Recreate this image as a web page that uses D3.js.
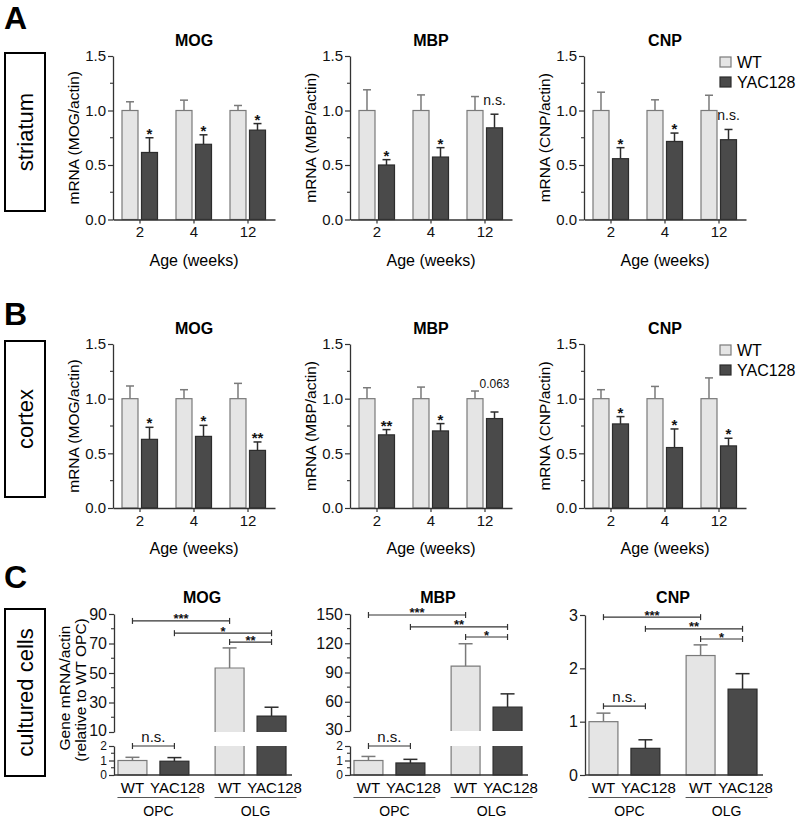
<!DOCTYPE html>
<html><head><meta charset="utf-8">
<script src="https://cdn.jsdelivr.net/npm/d3@7"></script>
<style>body{margin:0;background:#fff} svg{display:block;font-family:"Liberation Sans",Arial,Helvetica,sans-serif}</style>
</head><body><svg id="c" width="800" height="819"></svg>
<script>
// ---------- data ----------
const ages = ["2","4","12"];
const genotypes = ["WT","YAC128"];
const stages = ["OPC","OLG"];
const ageYTicks = [0, 0.5, 1.0, 1.5];
const ageYMinor = [0.25, 0.75, 1.25];

// A: striatum
const striatumMOG_WT = [1, 1, 1],   striatumMOG_WTsem = [0.08, 0.095, 0.046];
const striatumMOG_YAC = [0.615, 0.69, 0.82], striatumMOG_YACsem = [0.135, 0.087, 0.06];
const striatumMOG_sig = ["*", "*", "*"];
const striatumMBP_WT = [1, 1, 1],   striatumMBP_WTsem = [0.19, 0.143, 0.128];
const striatumMBP_YAC = [0.50, 0.573, 0.841], striatumMBP_YACsem = [0.049, 0.086, 0.125];
const striatumMBP_sig = ["*", "*", "n.s."];
const striatumCNP_WT = [1, 1, 1],   striatumCNP_WTsem = [0.168, 0.098, 0.14];
const striatumCNP_YAC = [0.558, 0.716, 0.732], striatumCNP_YACsem = [0.101, 0.077, 0.094];
const striatumCNP_sig = ["*", "*", "n.s."];

// B: cortex
const cortexMOG_WT = [1, 1, 1],   cortexMOG_WTsem = [0.116, 0.082, 0.14];
const cortexMOG_YAC = [0.628, 0.655, 0.527], cortexMOG_YACsem = [0.11, 0.101, 0.077];
const cortexMOG_sig = ["*", "*", "**"];
const cortexMBP_WT = [1, 1, 1],   cortexMBP_WTsem = [0.10, 0.106, 0.07];
const cortexMBP_YAC = [0.669, 0.705, 0.818], cortexMBP_YACsem = [0.048, 0.067, 0.06];
const cortexMBP_sig = ["**", "*", "0.063"];
const cortexCNP_WT = [1, 1, 1],   cortexCNP_WTsem = [0.082, 0.112, 0.19];
const cortexCNP_YAC = [0.769, 0.553, 0.568], cortexCNP_YACsem = [0.067, 0.17, 0.07];
const cortexCNP_sig = ["*", "*", "*"];

// C: cultured cells (OPC, OLG)
const cultureMOG_WT = [1.0, 53.4],  cultureMOG_WTsem = [0.22, 13.6];
const cultureMOG_YAC = [0.95, 20.8], cultureMOG_YACsem = [0.25, 6.0];
const cultureMOG_brackets = [
  {a:["OPC","WT"], b:["OPC","YAC128"], label:"n.s.", at:2.0},
  {a:["OPC","WT"], b:["OLG","WT"], label:"***", at:85.3},
  {a:["OPC","YAC128"], b:["OLG","YAC128"], label:"*", at:77},
  {a:["OLG","WT"], b:["OLG","YAC128"], label:"**", at:71}];
const cultureMBP_WT = [1.0, 96.5],  cultureMBP_WTsem = [0.28, 23];
const cultureMBP_YAC = [0.83, 54.6], cultureMBP_YACsem = [0.25, 13.5];
const cultureMBP_brackets = [
  {a:["OPC","WT"], b:["OPC","YAC128"], label:"n.s.", at:2.0},
  {a:["OPC","WT"], b:["OLG","WT"], label:"***", at:149},
  {a:["OPC","YAC128"], b:["OLG","YAC128"], label:"**", at:136.7},
  {a:["OLG","WT"], b:["OLG","YAC128"], label:"*", at:126.4}];
const cultureCNP_WT = [1.0, 2.24],  cultureCNP_WTsem = [0.16, 0.2];
const cultureCNP_YAC = [0.5, 1.61], cultureCNP_YACsem = [0.16, 0.29];
const cultureCNP_brackets = [
  {a:["OPC","WT"], b:["OPC","YAC128"], label:"n.s.", at:1.29},
  {a:["OPC","WT"], b:["OLG","WT"], label:"***", at:2.96},
  {a:["OPC","YAC128"], b:["OLG","YAC128"], label:"**", at:2.74},
  {a:["OLG","WT"], b:["OLG","YAC128"], label:"*", at:2.55}];

// ---------- style ----------
const WT_FILL = "#e5e5e5", WT_STROKE = "#7a7a7a";
const YAC_FILL = "#4a4a4a", YAC_STROKE = "#2c2c2c";
const AX = "#333";

const svg = d3.select("#c");

function styleAxis(g, fs) {
  g.select(".domain").attr("stroke", AX).attr("stroke-width", 1.3);
  g.selectAll(".tick line").attr("stroke", AX).attr("stroke-width", 1.2);
  g.selectAll(".tick text").attr("fill", "#111").style("font-size", fs + "px").style("font-family", '"Liberation Sans",Arial,sans-serif');
}

function panelLetter(t, y) {
  svg.append("text").attr("x", 4).attr("y", y).text(t)
    .style("font-size", "32px").style("font-weight", "bold").attr("fill", "#000");
}
function sideBox(t, y0, y1) {
  svg.append("rect").attr("x", 5).attr("y", y0).attr("width", 40).attr("height", y1 - y0)
    .attr("fill", "#fff").attr("stroke", "#000").attr("stroke-width", 2);
  svg.append("text").attr("transform", `translate(33,${(y0 + y1) / 2}) rotate(-90)`)
    .attr("text-anchor", "middle").text(t).style("font-size", "22px").attr("fill", "#000");
}

function drawAge(o) {
  const {X, y0, y1, gene, wt, wtSem, yac, yacSem, sig, legend} = o;
  const g = svg.append("g");
  const x = d3.scaleBand().domain(ages).range([X, X + 162]);
  const xi = d3.scaleBand().domain(genotypes).range([9, 44.5]).paddingInner(0.18);
  const y = d3.scaleLinear().domain([0, 1.5]).range([y0, y1]);

  const series = [{k:"WT", v:wt, s:wtSem, f:WT_FILL, c:WT_STROKE}, {k:"YAC128", v:yac, s:yacSem, f:YAC_FILL, c:YAC_STROKE}];
  series.forEach(sr => {
    ages.forEach((a, i) => {
      const bx = x(a) + xi(sr.k), bw = xi.bandwidth(), cx = bx + bw / 2;
      const top = y(sr.v[i]), et = y(sr.v[i] + sr.s[i]);
      g.append("line").attr("x1", cx).attr("x2", cx).attr("y1", top).attr("y2", et).attr("stroke", sr.c).attr("stroke-width", 1.5);
      g.append("line").attr("x1", cx - 4).attr("x2", cx + 4).attr("y1", et).attr("y2", et).attr("stroke", sr.c).attr("stroke-width", 1.5);
      g.append("rect").attr("x", bx).attr("y", top).attr("width", bw).attr("height", y0 - top)
        .attr("fill", sr.f).attr("stroke", sr.c).attr("stroke-width", 1.2);
    });
  });
  ages.forEach((a, i) => {
    const cx = x(a) + xi("YAC128") + xi.bandwidth() / 2;
    const s = sig[i];
    if (s.startsWith("*")) {
      g.append("text").attr("x", cx).attr("y", y(yac[i] + yacSem[i]) + 1).attr("text-anchor", "middle")
        .text(s).style("font-size", "15px").style("font-weight", "bold").attr("fill", "#111");
    } else if (s === "n.s.") {
      g.append("text").attr("x", cx).attr("y", y(yac[i] + yacSem[i]) - 9).attr("text-anchor", "middle")
        .text(s).style("font-size", "14px").attr("fill", "#111");
    } else {
      g.append("text").attr("x", cx).attr("y", y(wt[i] + wtSem[i]) - 3).attr("text-anchor", "middle")
        .text(s).style("font-size", "12px").attr("fill", "#111");
    }
  });
  const ya = g.append("g").attr("transform", `translate(${X},0)`)
    .call(d3.axisLeft(y).tickValues(ageYTicks).tickFormat(d3.format(".1f")).tickSize(5).tickPadding(2).tickSizeOuter(0));
  styleAxis(ya, 15);
  ageYMinor.forEach(v => g.append("line").attr("x1", X - 3).attr("x2", X).attr("y1", y(v)).attr("y2", y(v)).attr("stroke", AX).attr("stroke-width", 1.1));
  const xa = g.append("g").attr("transform", `translate(0,${y0})`)
    .call(d3.axisBottom(x).tickSize(4).tickPadding(3).tickSizeOuter(0));
  styleAxis(xa, 15);
  g.append("text").attr("x", X + 81).attr("y", y1 - 10).attr("text-anchor", "middle").text(gene)
    .style("font-size", "16px").style("font-weight", "bold");
  g.append("text").attr("x", X + 81).attr("y", y0 + 46).attr("text-anchor", "middle").text("Age (weeks)")
    .style("font-size", "16px");
  g.append("text").attr("transform", `translate(${X - 34},${(y0 + y1) / 2}) rotate(-90)`).attr("text-anchor", "middle")
    .text(`mRNA (${gene}/actin)`).style("font-size", "15.5px");
  if (legend) {
    [["WT", WT_FILL, WT_STROKE], ["YAC128", YAC_FILL, YAC_STROKE]].forEach((d, j) => {
      const cy = y1 + 6 + j * 20;
      g.append("rect").attr("x", 720).attr("y", cy - 5).attr("width", 11).attr("height", 10)
        .attr("fill", d[1]).attr("stroke", d[2]).attr("stroke-width", 1.2);
      g.append("text").attr("x", 737).attr("y", cy + 5.5).text(d[0]).style("font-size", "16px");
    });
  }
}

function drawCulture(o) {
  const {X, gene, wt, wtSem, yac, yacSem, brackets, upper, upTicks, upMinor, linear} = o;
  const g = svg.append("g");
  const xg = d3.scaleBand().domain(stages).range([X, X + 176]).paddingInner(0.27).paddingOuter(0.041);
  const xi = d3.scaleBand().domain(genotypes).range([0, xg.bandwidth()]).paddingInner(0.31);
  const yBase = 775;
  let y, yLow, yUp;
  if (linear) {
    y = d3.scaleLinear().domain([0, 3]).range([yBase, 615]);
  } else {
    yLow = d3.scaleLinear().domain([0, 2]).range([yBase, 746]);
    yUp = d3.scaleLinear().domain(upper).range([upper[0] === 10 ? 732 : 731, 614]);
    y = v => v <= 2 ? yLow(v) : yUp(v);
  }
  const cxOf = (st, gt) => xg(st) + xi(gt) + xi.bandwidth() / 2;
  const series = [{k:"WT", v:wt, s:wtSem, f:WT_FILL, c:WT_STROKE}, {k:"YAC128", v:yac, s:yacSem, f:YAC_FILL, c:YAC_STROKE}];
  series.forEach(sr => {
    stages.forEach((st, i) => {
      const bx = xg(st) + xi(sr.k), bw = xi.bandwidth(), cx = bx + bw / 2;
      const v = sr.v[i], et = y(v + sr.s[i]);
      g.append("line").attr("x1", cx).attr("x2", cx).attr("y1", y(v)).attr("y2", et).attr("stroke", sr.c).attr("stroke-width", 1.5);
      g.append("line").attr("x1", cx - 7).attr("x2", cx + 7).attr("y1", et).attr("y2", et).attr("stroke", sr.c).attr("stroke-width", 1.5);
      if (linear || v <= 2) {
        g.append("rect").attr("x", bx).attr("y", y(v)).attr("width", bw).attr("height", yBase - y(v))
          .attr("fill", sr.f).attr("stroke", sr.c).attr("stroke-width", 1.2);
      } else {
        const lt = yLow(2), ub = yUp(upper[0]), ut = yUp(v);
        g.append("rect").attr("x", bx).attr("y", lt).attr("width", bw).attr("height", yBase - lt).attr("fill", sr.f);
        g.append("path").attr("d", `M${bx},${lt}V${yBase}H${bx + bw}V${lt}`).attr("fill", "none").attr("stroke", sr.c).attr("stroke-width", 1.2);
        g.append("rect").attr("x", bx).attr("y", ut).attr("width", bw).attr("height", ub - ut).attr("fill", sr.f);
        g.append("path").attr("d", `M${bx},${ub}V${ut}H${bx + bw}V${ub}`).attr("fill", "none").attr("stroke", sr.c).attr("stroke-width", 1.2);
      }
    });
  });
  brackets.forEach(b => {
    const x1 = cxOf(b.a[0], b.a[1]), x2 = cxOf(b.b[0], b.b[1]), by = y(b.at);
    g.append("line").attr("x1", x1).attr("x2", x2).attr("y1", by).attr("y2", by).attr("stroke", AX).attr("stroke-width", 1.2);
    [x1, x2].forEach(xx => g.append("line").attr("x1", xx).attr("x2", xx).attr("y1", by - 3).attr("y2", by + 3).attr("stroke", AX).attr("stroke-width", 1.2));
    const isNs = b.label === "n.s.";
    g.append("text").attr("x", (x1 + x2) / 2).attr("y", isNs ? by - 4 : by + 2.5).attr("text-anchor", "middle")
      .text(b.label).style("font-size", isNs ? "15px" : "13px").style("font-weight", isNs ? "normal" : "bold").attr("fill", "#111");
  });
  const fmt = d3.format("d");
  if (linear) {
    const ya = g.append("g").attr("transform", `translate(${X},0)`)
      .call(d3.axisLeft(y).tickValues([0, 1, 2, 3]).tickFormat(fmt).tickSize(5).tickPadding(2).tickSizeOuter(0));
    styleAxis(ya, 16);
  } else {
    const yl = g.append("g").attr("transform", `translate(${X},0)`)
      .call(d3.axisLeft(yLow).tickValues([0, 1, 2]).tickFormat(fmt).tickSize(5).tickPadding(2).tickSizeOuter(0));
    styleAxis(yl, 12);
    [0.5, 1.5].forEach(v => g.append("line").attr("x1", X - 3).attr("x2", X).attr("y1", yLow(v)).attr("y2", yLow(v)).attr("stroke", AX).attr("stroke-width", 1.1));
    const yu = g.append("g").attr("transform", `translate(${X},0)`)
      .call(d3.axisLeft(yUp).tickValues(upTicks).tickFormat(fmt).tickSize(5).tickPadding(2).tickSizeOuter(0));
    styleAxis(yu, 16);
    yu.selectAll(".tick text").filter(d => d === upper[0]).attr("dy", "0.2em");
    upMinor.forEach(v => g.append("line").attr("x1", X - 3).attr("x2", X).attr("y1", yUp(v)).attr("y2", yUp(v)).attr("stroke", AX).attr("stroke-width", 1.1));
  }
  g.append("line").attr("x1", X).attr("x2", X + 178).attr("y1", yBase).attr("y2", yBase).attr("stroke", AX).attr("stroke-width", 1.3);
  stages.forEach(st => {
    genotypes.forEach(gt => {
      g.append("text").attr("x", cxOf(st, gt) + (gt === "WT" ? 0 : 3)).attr("y", 793).attr("text-anchor", "middle")
        .text(gt).style("font-size", "15px");
    });
    const l1 = cxOf(st, "WT") - 15, l2 = cxOf(st, "YAC128") + 25;
    g.append("line").attr("x1", l1).attr("x2", l2).attr("y1", 797.5).attr("y2", 797.5).attr("stroke", "#555").attr("stroke-width", 1.2);
    g.append("text").attr("x", (l1 + l2) / 2).attr("y", 816).attr("text-anchor", "middle").text(st).style("font-size", "14px");
  });
  g.append("text").attr("x", X + 88).attr("y", 603).attr("text-anchor", "middle").text(gene)
    .style("font-size", "16px").style("font-weight", "bold");
}

// ---------- layout ----------
panelLetter("A", 29);
panelLetter("B", 325);
panelLetter("C", 588);
sideBox("striatum", 53, 211);
sideBox("cortex", 341, 497);
sideBox("cultured cells", 609, 776);

const aTop = 56, aBot = 219.5, bTop = 344, bBot = 508;
drawAge({X:113, y0:aBot, y1:aTop, gene:"MOG", wt:striatumMOG_WT, wtSem:striatumMOG_WTsem, yac:striatumMOG_YAC, yacSem:striatumMOG_YACsem, sig:striatumMOG_sig});
drawAge({X:350, y0:aBot, y1:aTop, gene:"MBP", wt:striatumMBP_WT, wtSem:striatumMBP_WTsem, yac:striatumMBP_YAC, yacSem:striatumMBP_YACsem, sig:striatumMBP_sig});
drawAge({X:584, y0:aBot, y1:aTop, gene:"CNP", wt:striatumCNP_WT, wtSem:striatumCNP_WTsem, yac:striatumCNP_YAC, yacSem:striatumCNP_YACsem, sig:striatumCNP_sig, legend:true});
drawAge({X:113, y0:bBot, y1:bTop, gene:"MOG", wt:cortexMOG_WT, wtSem:cortexMOG_WTsem, yac:cortexMOG_YAC, yacSem:cortexMOG_YACsem, sig:cortexMOG_sig});
drawAge({X:350, y0:bBot, y1:bTop, gene:"MBP", wt:cortexMBP_WT, wtSem:cortexMBP_WTsem, yac:cortexMBP_YAC, yacSem:cortexMBP_YACsem, sig:cortexMBP_sig});
drawAge({X:584, y0:bBot, y1:bTop, gene:"CNP", wt:cortexCNP_WT, wtSem:cortexCNP_WTsem, yac:cortexCNP_YAC, yacSem:cortexCNP_YACsem, sig:cortexCNP_sig, legend:true});

drawCulture({X:114, gene:"MOG", wt:cultureMOG_WT, wtSem:cultureMOG_WTsem, yac:cultureMOG_YAC, yacSem:cultureMOG_YACsem,
  brackets:cultureMOG_brackets, upper:[10, 90], upTicks:[10, 30, 50, 70, 90], upMinor:[20, 40, 60, 80]});
drawCulture({X:350, gene:"MBP", wt:cultureMBP_WT, wtSem:cultureMBP_WTsem, yac:cultureMBP_YAC, yacSem:cultureMBP_YACsem,
  brackets:cultureMBP_brackets, upper:[30, 150], upTicks:[30, 60, 90, 120, 150], upMinor:[45, 75, 105, 135]});
drawCulture({X:585, gene:"CNP", wt:cultureCNP_WT, wtSem:cultureCNP_WTsem, yac:cultureCNP_YAC, yacSem:cultureCNP_YACsem,
  brackets:cultureCNP_brackets, linear:true});

svg.append("text").attr("transform", "translate(69.5,688) rotate(-90)").attr("text-anchor", "middle")
  .text("Gene mRNA/actin").style("font-size", "15.5px");
svg.append("text").attr("transform", "translate(85.5,690) rotate(-90)").attr("text-anchor", "middle")
  .text("(relative to WT OPC)").style("font-size", "15.5px");
</script></body></html>
